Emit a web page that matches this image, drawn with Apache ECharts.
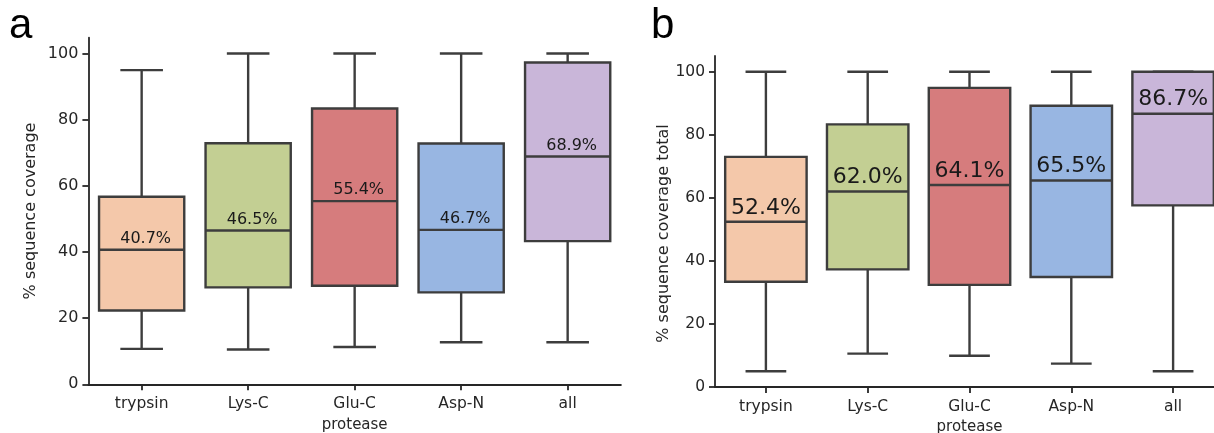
<!DOCTYPE html>
<html>
<head>
<meta charset="utf-8">
<script src="https://cdn.jsdelivr.net/npm/echarts@6/dist/echarts.min.js"></script>
<style>
html,body{margin:0;padding:0;background:#fff;}
#c{width:1214px;height:433px;}
</style>
</head>
<body>
<div id="c"></div>
<script>
const categories = ['trypsin', 'Lys-C', 'Glu-C', 'Asp-N', 'all'];
const boxColors = ['#f4c8aa', '#c3cf93', '#d67c7d', '#98b6e2', '#c9b6d9'];
const yTicks = [0, 20, 40, 60, 80, 100];

// panel a: % sequence coverage
const aLow    = [10.7, 10.5, 11.3, 12.7, 12.7];
const aQ1     = [22.3, 29.3, 29.8, 27.8, 43.3];
const aMedian = [40.7, 46.5, 55.4, 46.7, 68.9];
const aQ3     = [56.7, 72.9, 83.4, 72.8, 97.3];
const aHigh   = [95.0, 100, 100, 100, 100];

// panel b: % sequence coverage total
const bLow    = [5.0, 10.6, 9.9, 7.4, 5.0];
const bQ1     = [33.4, 37.3, 32.4, 34.9, 57.6];
const bMedian = [52.4, 62.0, 64.1, 65.5, 86.7];
const bQ3     = [73.0, 83.3, 94.9, 89.2, 100];
const bHigh   = [100, 100, 100, 100, 100];

function rows(lo, q1, md, q3, hi) {
  return categories.map((c, i) => [i, lo[i], q1[i], md[i], q3[i], hi[i]]);
}

const STROKE = '#3d3d3d';
const TXT = '#262626';
const FONT = 'DejaVu Sans';

function makeRender(labelSize, labelDx, labelDy) {
  return function (params, api) {
    const i = api.value(0);
    const pLo = api.coord([i, api.value(1)]);
    const pQ1 = api.coord([i, api.value(2)]);
    const pMd = api.coord([i, api.value(3)]);
    const pQ3 = api.coord([i, api.value(4)]);
    const pHi = api.coord([i, api.value(5)]);
    const band = api.size([1, 0])[0];
    const cx = pMd[0];
    const bw = band * 0.8;
    const cw = band * 0.4;
    const ls = {stroke: STROKE, lineWidth: 2.4};
    return {
      type: 'group',
      children: [
        {type: 'line', shape: {x1: cx, y1: pLo[1], x2: cx, y2: pQ1[1]}, style: ls},
        {type: 'line', shape: {x1: cx, y1: pQ3[1], x2: cx, y2: pHi[1]}, style: ls},
        {type: 'line', shape: {x1: cx - cw / 2, y1: pLo[1], x2: cx + cw / 2, y2: pLo[1]}, style: ls},
        {type: 'line', shape: {x1: cx - cw / 2, y1: pHi[1], x2: cx + cw / 2, y2: pHi[1]}, style: ls},
        {type: 'rect', shape: {x: cx - bw / 2, y: pQ3[1], width: bw, height: pQ1[1] - pQ3[1]},
         style: {fill: boxColors[i], stroke: STROKE, lineWidth: 2.4}},
        {type: 'line', shape: {x1: cx - bw / 2, y1: pMd[1], x2: cx + bw / 2, y2: pMd[1]}, style: ls},
        {type: 'text', x: cx + labelDx, y: pMd[1] - labelDy,
         style: {text: api.value(3).toFixed(1) + '%', fill: '#1a1a1a', font: labelSize + 'px "' + FONT + '"',
                 align: 'center', verticalAlign: 'bottom'}}
      ]
    };
  };
}

function xAxisCfg(gridIndex, margin, nameGap) {
  return {
    type: 'category', gridIndex: gridIndex, data: categories,
    name: 'protease', nameLocation: 'middle', nameGap: nameGap,
    nameTextStyle: {color: TXT, fontSize: 15, fontFamily: FONT},
    axisLine: {show: true, lineStyle: {color: TXT, width: 1.8}},
    axisTick: {show: true, alignWithLabel: true, length: 6, lineStyle: {color: TXT, width: 1.8}},
    axisLabel: {color: TXT, fontSize: 15.5, fontFamily: FONT, margin: margin},
    splitLine: {show: false}
  };
}

function yAxisCfg(gridIndex, max, name, nameGap, fontSize, namePad) {
  return {
    type: 'value', gridIndex: gridIndex, min: 0, max: max,
    name: name, nameLocation: 'middle', nameGap: nameGap, nameRotate: 90,
    nameTextStyle: {color: TXT, fontSize: 16, fontFamily: FONT, padding: namePad},
    axisLine: {show: true, lineStyle: {color: TXT, width: 1.8}},
    axisTick: {show: true, length: 6, customValues: yTicks, lineStyle: {color: TXT, width: 1.8}},
    axisLabel: {color: TXT, fontSize: fontSize, fontFamily: FONT, margin: 10, customValues: yTicks},
    splitLine: {show: false}
  };
}

const chart = echarts.init(document.getElementById('c'), null, {renderer: 'canvas'});
chart.setOption({
  animation: false,
  backgroundColor: '#ffffff',
  grid: [
    {left: 88.4, top: 37.7, width: 532.5, height: 346.6, containLabel: false, outerBoundsMode: 'none'},
    {left: 715, top: 56, width: 509, height: 331, containLabel: false, outerBoundsMode: 'none'}
  ],
  xAxis: [xAxisCfg(0, 12, 31), xAxisCfg(1, 12, 29)],
  yAxis: [
    yAxisCfg(0, 104.8, '% sequence coverage', 50, 16, [0, 0, 0, 0]),
    yAxisCfg(1, 105, '% sequence coverage total', 24, 15.5, [0, 24, 0, 0])
  ],
  graphic: [
    {type: 'text', left: 9, top: 5, style: {text: 'a', font: '42px "Liberation Sans"', fill: '#000'}},
    {type: 'text', left: 651, top: 5, style: {text: 'b', font: '42px "Liberation Sans"', fill: '#000'}}
  ],
  series: [
    {type: 'custom', xAxisIndex: 0, yAxisIndex: 0, renderItem: makeRender(16, 4, 3),
     encode: {x: 0, y: [1, 2, 3, 4, 5]}, data: rows(aLow, aQ1, aMedian, aQ3, aHigh), clip: false},
    {type: 'custom', xAxisIndex: 1, yAxisIndex: 1, renderItem: makeRender(22, 0, 3),
     encode: {x: 0, y: [1, 2, 3, 4, 5]}, data: rows(bLow, bQ1, bMedian, bQ3, bHigh), clip: false}
  ]
});
</script>
</body>
</html>
